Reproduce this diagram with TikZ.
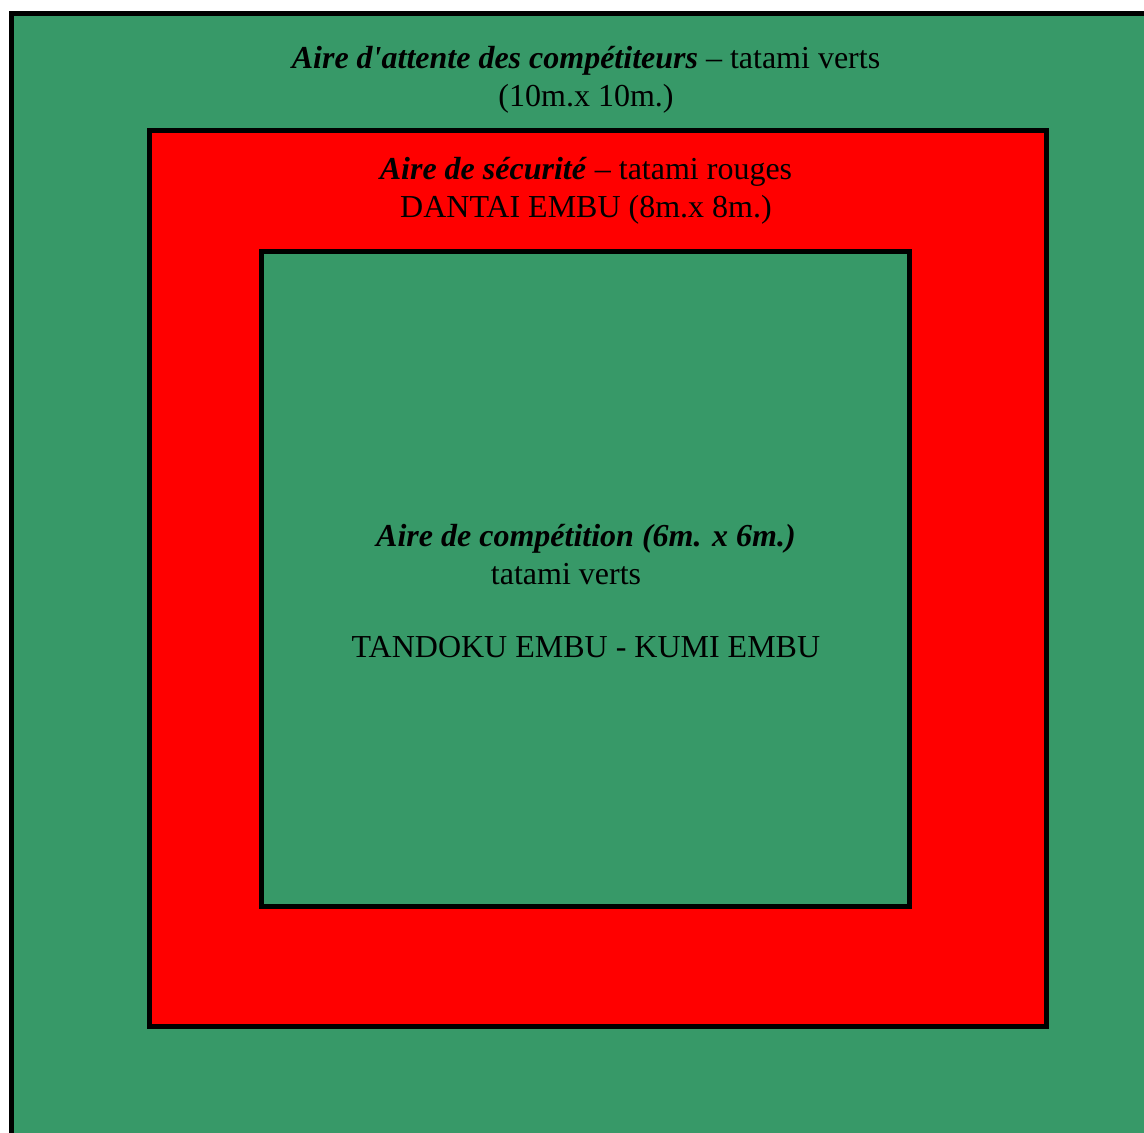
\documentclass[tikz,border=0pt]{standalone}
\usepackage{fontspec}
\setmainfont{Liberation Serif}[Ligatures=TeXOff]
\definecolor{tatamigreen}{RGB}{55,153,104}
\definecolor{tatamired}{RGB}{255,0,0}
\tikzset{
  area/.style={draw=black, line width=5pt},
  lbl/.style={anchor=base, inner sep=0pt, font=\fontsize{32}{37.5}\selectfont},
}
\begin{document}
\begin{tikzpicture}[x=1pt,y=-1pt]
\useasboundingbox (0,0) rectangle (1144,1133);
\clip (0,0) rectangle (1144,1133);
% outer waiting area
\path[area, fill=tatamigreen] (11.5,13.5) rectangle (1170,1160);
% safety area
\path[area, fill=tatamired] (149,130) rectangle (1046,1026.5);
% competition area
\path[area, fill=tatamigreen] (261,251) rectangle (909,906.5);
% labels
\node[lbl] (t1) at (586,68.5) {\textbf{\textit{Aire d'attente des compétiteurs}} – tatami verts};
\node[lbl] (t2) at (586,106) {(10m.x 10m.)};
\node[lbl] (s1) at (586,179.5) {\textbf{\textit{Aire de sécurité}} – tatami rouges};
\node[lbl] (s2) at (586,217.5) {DANTAI EMBU (8m.x 8m.)};
\node[lbl] (c1) at (586,546.5) {\textbf{\textit{Aire de compétition (6m. x 6m.)}}};
\node[lbl] (c2) at (566,584.5) {tatami verts};
\node[lbl] (c3) at (586,657.5) {TANDOKU EMBU - KUMI EMBU};
\end{tikzpicture}
\end{document}
